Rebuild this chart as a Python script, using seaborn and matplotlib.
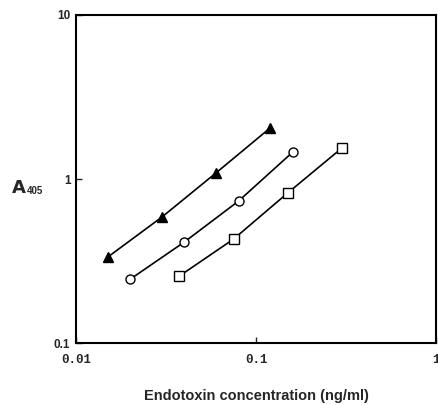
import matplotlib
matplotlib.use("Agg")
import matplotlib.pyplot as plt
import seaborn as sns
import pandas as pd
from matplotlib.ticker import FixedLocator, FixedFormatter, NullLocator

# Data
tri_x = [0.015, 0.03, 0.06, 0.12]
tri_y = [0.334, 0.586, 1.09, 2.05]
circ_x = [0.02, 0.04, 0.08, 0.16]
circ_y = [0.245, 0.413, 0.734, 1.46]
sq_x = [0.0375, 0.075, 0.15, 0.3]
sq_y = [0.256, 0.43, 0.822, 1.545]

x_ticks = [0.01, 0.1, 1]
x_tick_labels = ["0.01", "0.1", "1"]
y_ticks = [0.1, 1, 10]
y_tick_labels = ["0.1", "1", "10"]

sns.set_style("white")
plt.rcParams['font.family'] = ['Liberation Sans', 'DejaVu Sans']

fig = plt.figure(figsize=(4.38, 4.05), dpi=100)
ax = fig.add_axes([0.1735, 0.153, 0.822, 0.81])

series = [
    (tri_x, tri_y, "^", "black", 7.5),
    (circ_x, circ_y, "o", "white", 6.5),
    (sq_x, sq_y, "s", "white", 6.5),
]
for xs, ys, m, fc, ms in series:
    df = pd.DataFrame({"x": xs, "y": ys})
    sns.lineplot(data=df, x="x", y="y", ax=ax, color="black", linewidth=1.2,
                 marker=m, markersize=ms, markerfacecolor=fc,
                 markeredgecolor="black", markeredgewidth=1.0)

ax.set_xscale("log")
ax.set_yscale("log")
ax.set_xlim(0.01, 1)
ax.set_ylim(0.1, 10)
ax.xaxis.set_major_locator(FixedLocator(x_ticks))
ax.xaxis.set_major_formatter(FixedFormatter(x_tick_labels))
ax.yaxis.set_major_locator(FixedLocator(y_ticks))
ax.yaxis.set_major_formatter(FixedFormatter(y_tick_labels))
ax.xaxis.set_minor_locator(NullLocator())
ax.yaxis.set_minor_locator(NullLocator())
ax.tick_params(axis="both", which="major", direction="in", length=4, width=1,
               bottom=True, left=True, top=False, right=False)
ax.tick_params(axis="x", labelsize=9, pad=8)
ax.tick_params(axis="y", labelsize=8.5, pad=4)
for lab in ax.get_xticklabels():
    lab.set_fontweight("bold")
    lab.set_family(["Liberation Mono", "DejaVu Sans Mono"])
for lab in ax.get_yticklabels():
    lab.set_fontweight("bold")
for sp in ax.spines.values():
    sp.set_visible(True)
    sp.set_color("black")
    sp.set_linewidth(1.5)

ax.set_xlabel("")
ax.set_ylabel("")
fig.text(256 / 438, 1 - 396 / 405, "Endotoxin concentration (ng/ml)",
         fontsize=10.5, fontweight="bold", ha="center", va="center")
fig.text(0.025, 0.535, r"$\mathbf{A}$", fontsize=13, va="center", ha="left")
fig.text(0.062, 0.528, "405", fontsize=7, fontweight="bold", va="center", ha="left")

fig.savefig("out.png", dpi=100)
